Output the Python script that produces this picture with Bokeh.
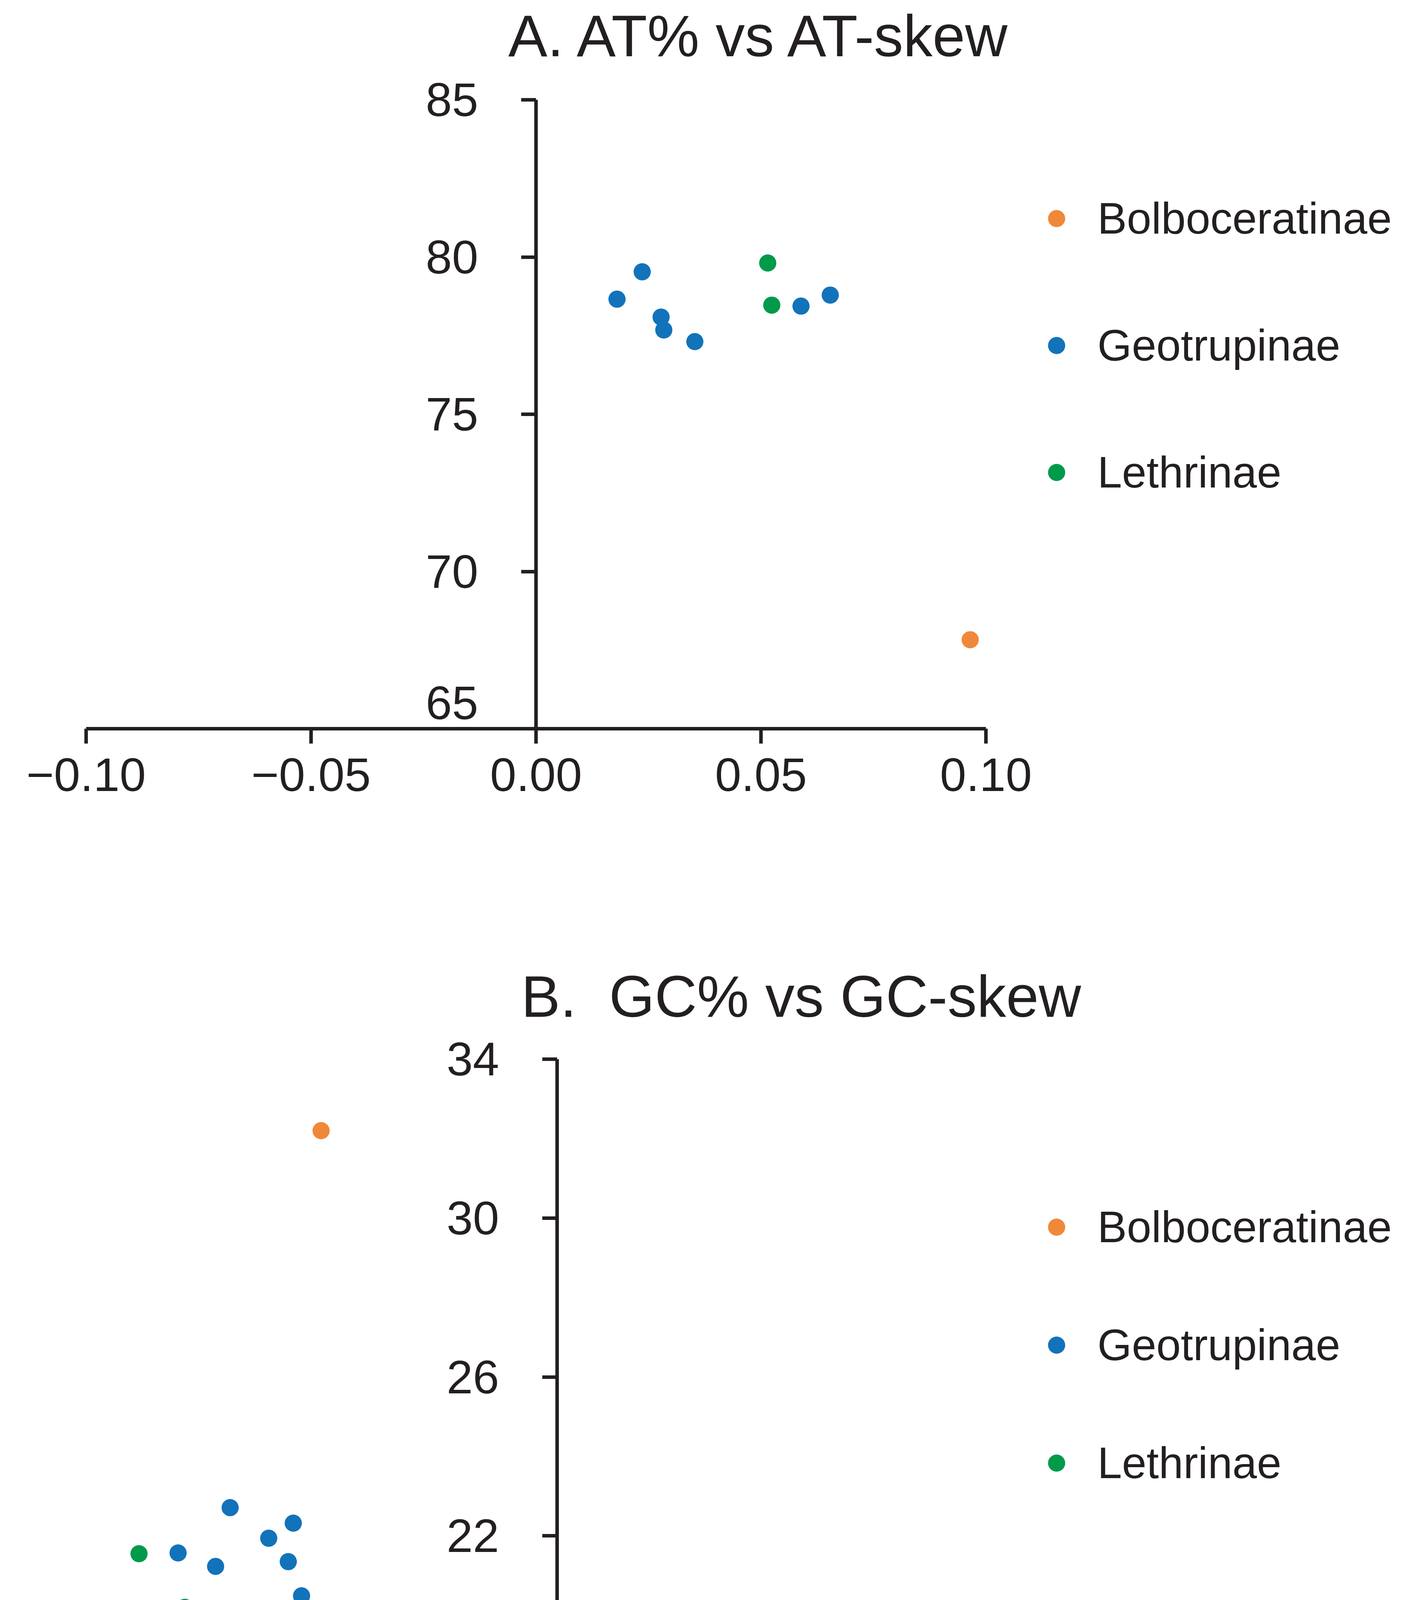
from bokeh.plotting import figure
from bokeh.layouts import column
from bokeh.models import Range1d, FixedTicker, Legend, LegendItem, Title, Label
from bokeh.embed import file_html
from bokeh.resources import INLINE

FONT = "Liberation Sans"
INK = "#231F20"
WIDTH = 3570

groups = ["Bolboceratinae", "Geotrupinae", "Lethrinae"]
group_colors = ["#F0883A", "#1273BA", "#009A4A"]

# panel A: AT-skew vs AT%
at_skew_bolbo = [0.0965]
at_pct_bolbo = [67.83]
at_skew_geo = [0.0180, 0.0236, 0.0278, 0.0284, 0.0353, 0.0589, 0.0654]
at_pct_geo = [78.66, 79.53, 78.09, 77.68, 77.31, 78.44, 78.79]
at_skew_leth = [0.0515, 0.0524]
at_pct_leth = [79.81, 78.47]

at_x_ticks = [-0.10, -0.05, 0.0, 0.05, 0.10]
at_x_labels = ["\u22120.10", "\u22120.05", "0.00", "0.05", "0.10"]
at_y_ticks = [65, 70, 75, 80, 85]
at_y_labels = ["65", "70", "75", "80", "85"]

# panel B: GC-skew vs GC%
gc_skew_bolbo = [-0.1509]
gc_pct_bolbo = [32.20]
gc_skew_geo = [-0.2091, -0.1687, -0.1844, -0.2424, -0.2184, -0.1719, -0.1634]
gc_pct_geo = [22.71, 22.32, 21.94, 21.57, 21.23, 21.35, 20.49]
gc_skew_leth = [-0.2674, -0.2381]
gc_pct_leth = [21.55, 20.20]

gc_x_ticks = [-0.30, -0.15, 0.0, 0.15, 0.30]
gc_x_labels = ["\u22120.30", "\u22120.15", "0.00", "0.15", "0.30"]
gc_y_ticks = [18, 22, 26, 30, 34]
gc_y_labels = ["18", "22", "26", "30", "34"]

TICK_OUT = 38
Y_STANDOFF = 110


def padded(lo, hi, span_px, pad_lo_px, pad_hi_px):
    # widen a range so that lo..hi takes span_px pixels of the frame
    per_px = (hi - lo) / span_px
    return Range1d(lo - pad_lo_px * per_px, hi + pad_hi_px * per_px)


def make_panel(title, xs, ys, x_ticks, x_labels, y_ticks, y_labels,
               height, top, x_px, y_px, title_offset, title_standoff,
               legend_loc, legend_spacing, x_standoff, low_label_lift):
    frame_h = height - top
    x_lo_pad, x_span = x_px
    y_top_pad, y_span = y_px
    p = figure(
        width=WIDTH,
        height=height,
        x_range=padded(x_ticks[0], x_ticks[-1], x_span, x_lo_pad,
                       WIDTH - x_lo_pad - x_span),
        y_range=padded(y_ticks[0], y_ticks[-1], y_span,
                       frame_h - y_top_pad - y_span, y_top_pad),
        output_backend="svg",
        toolbar_location=None,
        min_border_left=0,
        min_border_right=0,
        min_border_top=top,
        min_border_bottom=0,
    )
    p.title = None
    p.add_layout(
        Title(
            text=title,
            align="left",
            offset=title_offset,
            standoff=title_standoff,
            text_font=FONT,
            text_font_size="150px",
            text_font_style="normal",
            text_color=INK,
        ),
        "above",
    )
    p.outline_line_color = None
    p.grid.visible = False
    p.background_fill_color = "white"

    renderers = []
    for gx, gy, color in zip(xs, ys, group_colors):
        r = p.scatter(gx, gy, size=44, color=color, line_color=None)
        renderers.append(r)

    p.xaxis.fixed_location = y_ticks[0]
    p.yaxis.fixed_location = 0
    p.xaxis.bounds = (x_ticks[0], x_ticks[-1])
    p.yaxis.bounds = (y_ticks[0], y_ticks[-1])
    p.xaxis.ticker = FixedTicker(ticks=x_ticks)
    p.yaxis.ticker = FixedTicker(ticks=y_ticks)
    p.xaxis.major_label_overrides = dict(zip(x_ticks, x_labels))
    # the lowest y label sits above the x axis, drawn separately below
    y_over = dict(zip(y_ticks, y_labels))
    y_over[y_ticks[0]] = ""
    p.yaxis.major_label_overrides = y_over
    for ax in (p.xaxis, p.yaxis):
        ax.axis_line_width = 9
        ax.axis_line_color = INK
        ax.major_tick_line_width = 9
        ax.major_tick_line_color = INK
        ax.major_tick_out = TICK_OUT
        ax.major_tick_in = 0
        ax.minor_tick_line_color = None
        ax.major_label_text_font = FONT
        ax.major_label_text_font_size = "121px"
        ax.major_label_text_color = INK
    p.xaxis.major_label_standoff = x_standoff
    p.yaxis.major_label_standoff = Y_STANDOFF

    # the svg text lands ~48px under its anchor, so lift by that too
    p.add_layout(Label(
        x=0, y=y_ticks[0], text=y_labels[0],
        x_offset=-(TICK_OUT + Y_STANDOFF), y_offset=low_label_lift + 48,
        text_align="right", text_baseline="alphabetic",
        text_font=FONT, text_font_size="121px", text_color=INK,
    ))

    legend = Legend(
        items=[LegendItem(label=g, renderers=[r]) for g, r in zip(groups, renderers)],
        location=legend_loc,
        glyph_width=110,
        glyph_height=110,
        label_standoff=50,
        spacing=legend_spacing,
        padding=0,
        margin=0,
        label_text_font=FONT,
        label_text_font_size="113px",
        label_text_color=INK,
        background_fill_alpha=0,
        border_line_alpha=0,
    )
    p.add_layout(legend)
    return p


pa = make_panel(
    "A. AT% vs AT-skew",
    [at_skew_bolbo, at_skew_geo, at_skew_leth],
    [at_pct_bolbo, at_pct_geo, at_pct_leth],
    at_x_ticks, at_x_labels, at_y_ticks, at_y_labels,
    height=2250,
    top=180,
    x_px=(220, 2304),
    y_px=(75, 1610),
    title_offset=1301,
    title_standoff=10,
    legend_loc=(2650, 976),
    legend_spacing=195,
    x_standoff=38,
    low_label_lift=18,
)

pb = make_panel(
    "B. \u00a0GC% vs GC-skew",
    [gc_skew_bolbo, gc_skew_geo, gc_skew_leth],
    [gc_pct_bolbo, gc_pct_geo, gc_pct_leth],
    gc_x_ticks, gc_x_labels, gc_y_ticks, gc_y_labels,
    height=2292,
    top=390,
    x_px=(225, 2401),
    y_px=(71, 1627),
    title_offset=1334,
    title_standoff=11,
    legend_loc=(2650, 732),
    legend_spacing=172,
    x_standoff=22,
    low_label_lift=30,
)

layout = column(pa, pb, spacing=0)
open("out.html", "w").write(file_html(layout, INLINE))
